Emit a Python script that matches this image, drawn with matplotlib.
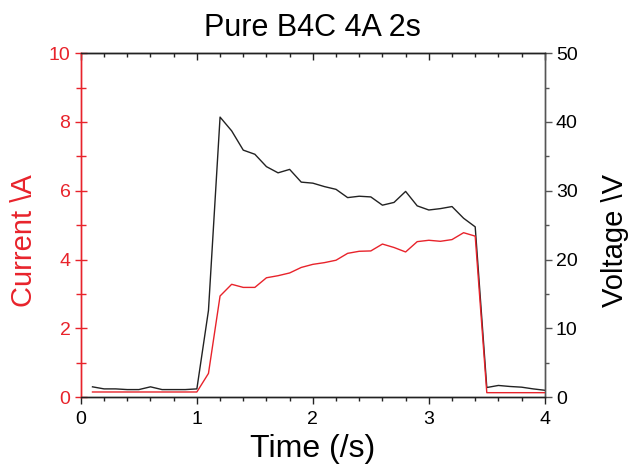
"""Pure B4C 4A 2s: current (left, red) and voltage (right, black) vs time."""

import matplotlib
matplotlib.use("Agg")
import matplotlib.pyplot as plt
from matplotlib.ticker import MultipleLocator

plt.rcParams["font.family"] = ["Liberation Sans", "DejaVu Sans"]

RED = "#e8232b"
DARK = "#222222"
GREY = "#555555"

time_s = [0.1, 0.2, 0.3, 0.4, 0.5, 0.6, 0.7, 0.8, 0.9, 1.0,
          1.1, 1.2, 1.3, 1.4, 1.5, 1.6, 1.7, 1.8, 1.9, 2.0,
          2.1, 2.2, 2.3, 2.4, 2.5, 2.6, 2.7, 2.8, 2.9, 3.0,
          3.1, 3.2, 3.3, 3.4, 3.5, 3.6, 3.7, 3.8, 3.9, 4.0]

current_a = [0.15, 0.15, 0.15, 0.15, 0.15, 0.15, 0.15, 0.15, 0.15, 0.15,
             0.69, 2.94, 3.28, 3.19, 3.19, 3.47, 3.53, 3.61, 3.77, 3.86,
             3.91, 3.98, 4.18, 4.24, 4.25, 4.45, 4.35, 4.22, 4.52, 4.56,
             4.53, 4.58, 4.78, 4.68, 0.13, 0.13, 0.13, 0.13, 0.13, 0.13]

voltage_v = [1.5, 1.2, 1.2, 1.1, 1.1, 1.5, 1.1, 1.1, 1.1, 1.2,
             12.6, 40.7, 38.7, 35.9, 35.3, 33.5, 32.6, 33.1, 31.25, 31.1,
             30.6, 30.2, 29.0, 29.2, 29.1, 27.9, 28.3, 29.9, 27.8, 27.2,
             27.4, 27.7, 26.0, 24.75, 1.4, 1.7, 1.55, 1.45, 1.2, 1.0]

fig = plt.figure(figsize=(6.32, 4.70), dpi=100)
ax = fig.add_axes([0.128, 0.155, 0.734, 0.732])
ax2 = ax.twinx()

ax.plot(time_s, current_a, color=RED, lw=1.0, zorder=3)
ax2.plot(time_s, voltage_v, color=DARK, lw=1.0, zorder=2)
ax.set_zorder(ax2.get_zorder() + 1)
ax.patch.set_visible(False)

ax.set_xlim(0, 4)
ax.set_ylim(0, 10)
ax2.set_ylim(0, 50)

ax.xaxis.set_major_locator(MultipleLocator(1))
ax.xaxis.set_minor_locator(MultipleLocator(0.2))
ax.yaxis.set_major_locator(MultipleLocator(2))
ax.yaxis.set_minor_locator(MultipleLocator(1))
ax2.yaxis.set_major_locator(MultipleLocator(10))
ax2.yaxis.set_minor_locator(MultipleLocator(5))

# spines
for a in (ax, ax2):
    a.spines["left"].set_color(RED)
    a.spines["right"].set_color(GREY)
    a.spines["top"].set_color(DARK)
    a.spines["bottom"].set_color(DARK)
    for s in a.spines.values():
        s.set_linewidth(1.0)

ax.tick_params(axis="x", which="major", direction="out", length=5, width=1.0,
               color=DARK, labelsize=14, pad=5)
ax.tick_params(axis="x", which="minor", direction="out", length=3, width=1.0, color=DARK)
ax.tick_params(axis="y", which="major", direction="inout", length=9, width=1.0,
               color=RED, labelcolor=RED, labelsize=14, pad=3)
ax.tick_params(axis="y", which="minor", direction="inout", length=7, width=1.0, color=RED)
ax2.tick_params(axis="y", which="major", direction="out", length=5, width=1.0,
                color=GREY, labelcolor="black", labelsize=14, pad=3)
ax2.tick_params(axis="y", which="minor", direction="out", length=3, width=1.0, color=GREY)

# inward ticks on the top edge
top = ax.secondary_xaxis("top")
top.xaxis.set_major_locator(MultipleLocator(1))
top.xaxis.set_minor_locator(MultipleLocator(0.2))
top.tick_params(which="major", direction="in", length=5, width=1.0, color=DARK, labeltop=False)
top.tick_params(which="minor", direction="in", length=3, width=1.0, color=DARK)
top.spines["top"].set_color(DARK)

ax.set_xlabel("Time (/s)", fontsize=23, labelpad=4)
ax.set_ylabel("Current \\A", fontsize=21, color=RED)
ax2.set_ylabel("Voltage \\V", fontsize=21, color="black")
ax.yaxis.set_label_coords(-0.092, 0.456)
ax2.yaxis.set_label_coords(1.121, 0.456)
ax.set_title("Pure B4C 4A 2s", fontsize=22, pad=12)

fig.savefig("out.png", dpi=100)
